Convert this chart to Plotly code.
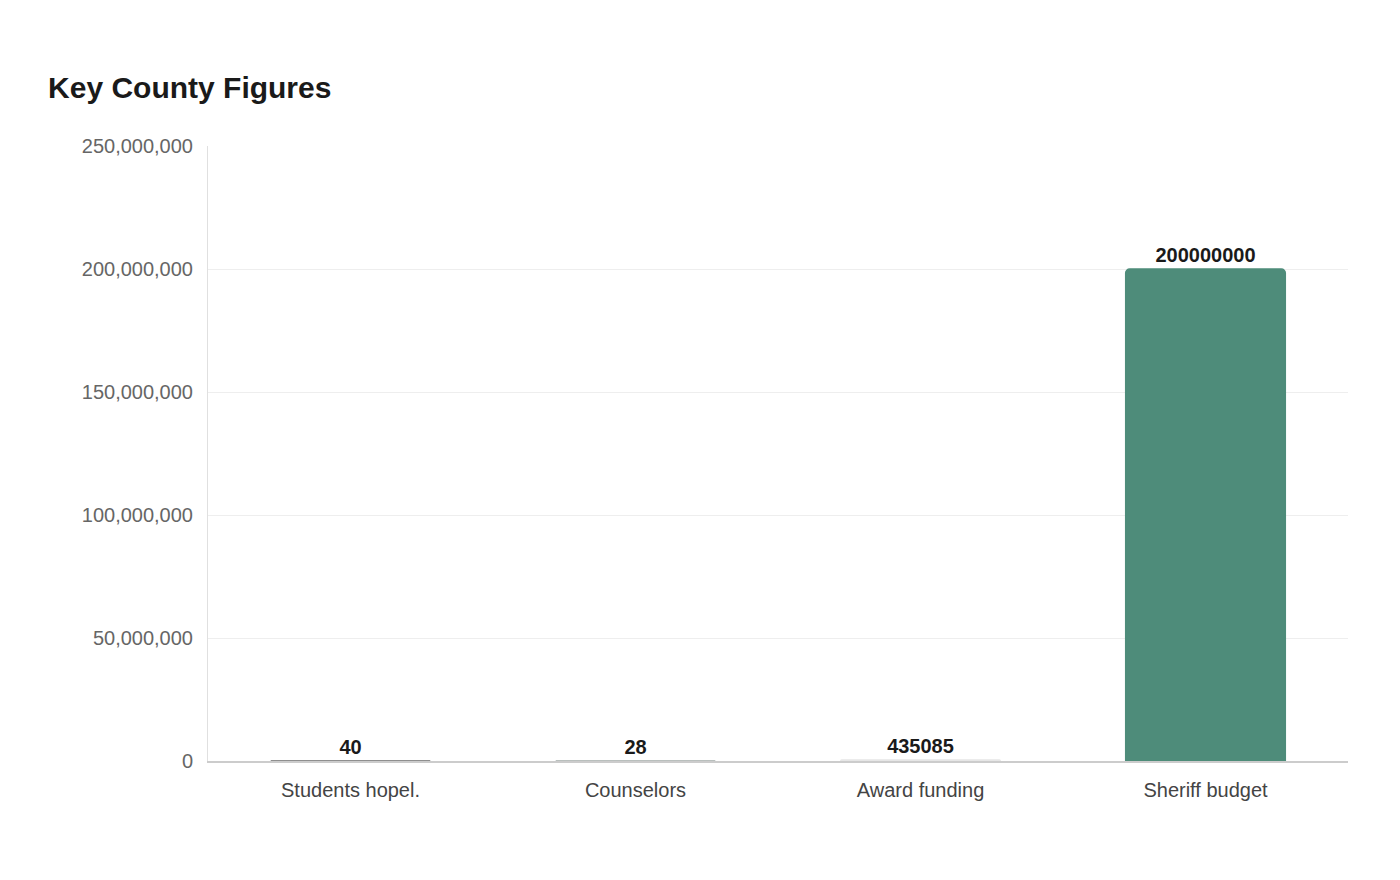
import plotly.graph_objects as go

categories = ["Students hopel.", "Counselors", "Award funding", "Sheriff budget"]
values = [40, 28, 435085, 200000000]
colors = ["#6b6b6b", "#a3aaa8", "#e6e6e6", "#4e8c7a"]

fig = go.Figure(go.Bar(
    x=categories, y=values,
    marker=dict(color=colors, line=dict(color=colors, width=1.5)),
    text=[str(v) for v in values], textposition="outside",
    textfont=dict(family="Liberation Sans", size=20, color="#1a1a1a", weight="bold"),
    cliponaxis=False,
))
fig.update_layout(
    width=1400, height=880,
    paper_bgcolor="white", plot_bgcolor="white",
    font=dict(family="Liberation Sans", size=20, color="#666"),
    title=dict(text="<b>Key County Figures</b>", x=0.0286, xanchor="left", y=0.91, yanchor="middle",
               font=dict(size=30, color="#1a1a1a")),
    margin=dict(l=200, r=60, t=138, b=127),
    bargap=0.44, barcornerradius=4,
    showlegend=False,
)
fig.update_xaxes(showline=True, linecolor="#cccccc", linewidth=1.5, tickfont=dict(color="#444"), ticks="", ticklabelstandoff=10)
fig.update_yaxes(range=[0, 250000000], dtick=50000000, tickformat=",", gridcolor="#eeeeee",
                 showline=True, linecolor="#e0e0e0", zeroline=False, ticklabelstandoff=10)
fig.write_html("out.html")
